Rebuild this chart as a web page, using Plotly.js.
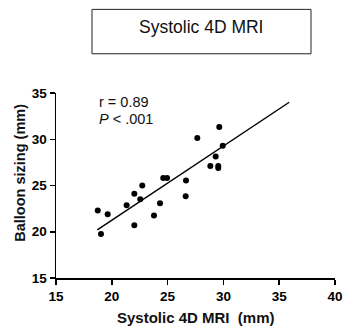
<!DOCTYPE html>
<html><head><meta charset="utf-8">
<script src="https://cdn.plot.ly/plotly-3.0.1.min.js"></script>
<style>body{margin:0;background:#fff}#c{width:344px;height:327px}</style>
</head><body><div id="c"></div>
<script>
const mriX = [18.74,19.03,19.63,21.33,22.02,22.02,22.55,22.73,23.78,24.32,24.61,24.95,26.65,26.62,27.66,28.83,29.31,29.54,29.54,29.63,29.94];
const balloonY = [22.30,19.75,21.90,22.87,24.10,20.69,23.52,25.00,21.76,23.09,25.82,25.82,25.54,23.85,30.13,27.11,28.13,27.11,26.90,31.32,29.31];
const fitX = [18.7, 35.9];
const fitY = [20.2, 34.0];
const xTicks = [15,20,25,30,35,40];
const yTicks = [15,20,25,30,35];
const titleText = 'Systolic 4D MRI';
const xTitle = 'Systolic 4D MRI  (mm)';
const yTitle = 'Balloon sizing (mm)';
const statR = 'r = 0.89';
const statP = '<i>P</i> < .001';

const F = 'Liberation Sans, Arial, sans-serif';
const data = [
  {x: mriX, y: balloonY, mode: 'markers', type: 'scatter', marker: {color: '#000', size: 6}, hoverinfo: 'none'},
  {x: fitX, y: fitY, mode: 'lines', type: 'scatter', line: {color: '#000', width: 1.5}, hoverinfo: 'none'}
];
const axisBase = {showgrid: false, zeroline: false, showline: true, linecolor: '#000', linewidth: 1.5,
  ticks: 'outside', ticklen: 5, tickwidth: 1.5, tickcolor: '#000', tickmode: 'array',
  tickfont: {family: F, size: 13.5, color: '#000', weight: 'bold'}};
const layout = {
  width: 344, height: 327, showlegend: false,
  margin: {l: 56, r: 9, t: 93, b: 49},
  paper_bgcolor: '#fff', plot_bgcolor: '#fff',
  xaxis: Object.assign({}, axisBase, {range: [15, 40], tickvals: xTicks, ticktext: xTicks.map(String)}),
  yaxis: Object.assign({}, axisBase, {range: [15, 35], tickvals: yTicks, ticktext: yTicks.map(String)}),
  shapes: [{type: 'rect', xref: 'paper', yref: 'paper', x0: 0.129, x1: 0.914, y0: 1.212, y1: 1.452,
    line: {color: '#222', width: 1}, fillcolor: 'rgba(0,0,0,0)'}],
  annotations: [
    {xref: 'paper', yref: 'paper', x: 0.52, y: 1.357, xanchor: 'center', yanchor: 'middle', text: titleText, showarrow: false,
      font: {family: F, size: 17.5, color: '#111'}},
    {xref: 'paper', yref: 'paper', x: 0.5, y: -0.215, xanchor: 'center', yanchor: 'middle', text: xTitle, showarrow: false,
      font: {family: F, size: 15, color: '#111', weight: 'bold'}},
    {xref: 'paper', yref: 'paper', x: -0.132, y: 0.57, xanchor: 'center', yanchor: 'middle', text: yTitle, showarrow: false, textangle: -90,
      font: {family: F, size: 14.5, color: '#111', weight: 'bold'}},
    {xref: 'paper', yref: 'paper', x: 0.148, y: 0.951, xanchor: 'left', yanchor: 'middle', text: statR, showarrow: false,
      font: {family: F, size: 14.5, color: '#111'}},
    {xref: 'paper', yref: 'paper', x: 0.148, y: 0.859, xanchor: 'left', yanchor: 'middle', text: statP, showarrow: false,
      font: {family: F, size: 14.5, color: '#111'}}
  ]
};
Plotly.newPlot('c', data, layout, {staticPlot: true, displayModeBar: false});
</script></body></html>
